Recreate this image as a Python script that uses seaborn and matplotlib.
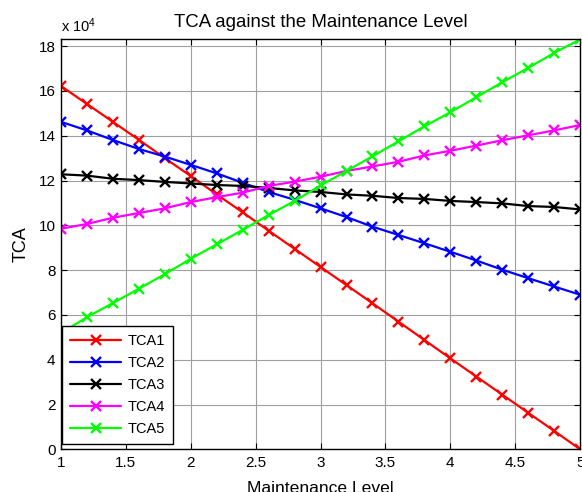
import seaborn as sns
import matplotlib.pyplot as plt
from matplotlib.ticker import FuncFormatter

# Maintenance level (x axis) and TCA values in units of 10^4
level = [1.0, 1.2, 1.4, 1.6, 1.8, 2.0, 2.2, 2.4, 2.6, 2.8, 3.0,
         3.2, 3.4, 3.6, 3.8, 4.0, 4.2, 4.4, 4.6, 4.8, 5.0]
tca1 = [16.22, 15.42, 14.62, 13.82, 13.0, 12.2, 11.38, 10.58, 9.76, 8.95, 8.14,
        7.33, 6.52, 5.7, 4.88, 4.06, 3.25, 2.44, 1.63, 0.82, 0.0]
tca2 = [14.62, 14.24, 13.81, 13.41, 13.07, 12.7, 12.32, 11.9, 11.49, 11.14, 10.76,
        10.37, 9.94, 9.57, 9.2, 8.82, 8.43, 8.02, 7.64, 7.27, 6.9]
tca3 = [12.28, 12.22, 12.08, 12.02, 11.94, 11.87, 11.8, 11.76, 11.67, 11.56, 11.49,
        11.38, 11.32, 11.22, 11.18, 11.09, 11.04, 10.98, 10.86, 10.82, 10.71]
tca4 = [9.85, 10.06, 10.34, 10.55, 10.76, 11.04, 11.26, 11.46, 11.76, 11.95, 12.17,
        12.43, 12.63, 12.84, 13.12, 13.33, 13.56, 13.8, 14.02, 14.24, 14.48]
tca5 = [5.19, 5.9, 6.53, 7.17, 7.82, 8.51, 9.15, 9.8, 10.46, 11.09, 11.78,
        12.43, 13.08, 13.75, 14.42, 15.05, 15.72, 16.39, 17.03, 17.7, 18.3]

series = {'TCA1': tca1, 'TCA2': tca2, 'TCA3': tca3, 'TCA4': tca4, 'TCA5': tca5}
colors = {'TCA1': '#ff0000', 'TCA2': '#0000ff', 'TCA3': '#000000',
          'TCA4': '#ff00ff', 'TCA5': '#00ff00'}

sns.set_style('whitegrid')
plt.rcParams['font.family'] = ['Liberation Sans', 'DejaVu Sans']
plt.rcParams['mathtext.default'] = 'regular'
plt.rcParams['text.color'] = 'black'
plt.rcParams['axes.labelcolor'] = 'black'

fig = plt.figure(figsize=(5.82, 4.92), dpi=100)
ax = fig.add_axes([0.1048, 0.0868, 0.892, 0.833])

for name, vals in series.items():
    sns.lineplot(x=level, y=vals, color=colors[name], marker='x', markersize=7,
                 markeredgewidth=1.7, markeredgecolor=colors[name], linewidth=1.6,
                 label=name, ax=ax)

ax.set_xlim(1, 5)
ax.set_ylim(0, max(tca5))
ax.set_xticks([1, 1.5, 2, 2.5, 3, 3.5, 4, 4.5, 5])
ax.set_yticks(range(0, 19, 2))
ax.xaxis.set_major_formatter(FuncFormatter(lambda v, p: '%g' % v))

ax.grid(True, color='#a0a0a0', linewidth=0.8)
for s in ax.spines.values():
    s.set_visible(True)
    s.set_color('black')
    s.set_linewidth(1.0)
ax.tick_params(axis='both', direction='in', length=4, width=0.8, colors='black',
               labelsize=11, top=True, right=True, bottom=True, left=True)
ax.tick_params(axis='x', pad=5)
ax.tick_params(axis='y', pad=4)

ax.set_title('TCA against the Maintenance Level', fontsize=13.4, pad=9)
ax.set_xlabel('Maintenance Level', fontsize=12.6, labelpad=8)
ax.set_ylabel('TCA', fontsize=13, labelpad=6)
ax.text(0.0, 1.019, 'x 10$^{4}$', transform=ax.transAxes, fontsize=10.5,
        ha='left', va='baseline')

leg = ax.legend(loc='lower left', bbox_to_anchor=(0.0025, 0.013), borderaxespad=0,
                fontsize=10.5, handlelength=3.5, handletextpad=0.45, borderpad=0.55,
                labelspacing=0.55, fancybox=False, framealpha=1)
leg.get_frame().set_edgecolor('black')
leg.get_frame().set_linewidth(1.0)

fig.savefig('out.png', dpi=100)
